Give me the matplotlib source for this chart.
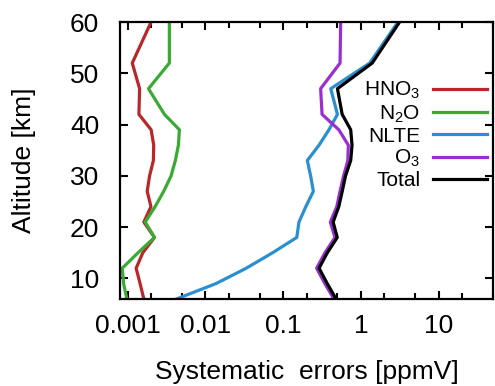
import matplotlib
matplotlib.use("Agg")
import matplotlib.pyplot as plt
from matplotlib.ticker import FixedLocator, NullFormatter

plt.rcParams['font.family'] = ['Liberation Sans', 'DejaVu Sans']
plt.rcParams['mathtext.fontset'] = 'custom'
plt.rcParams['mathtext.rm'] = 'Liberation Sans'
plt.rcParams['mathtext.it'] = 'Liberation Sans'

# altitude grid [km]
altitude = [6, 9, 12, 15, 18, 21, 24, 27, 30, 33, 36, 39, 42, 47, 52, 60]

# systematic errors [ppmV]
hno3 = [0.00162, 0.00145, 0.00129, 0.00157, 0.00222, 0.00162, 0.0020, 0.00179,
        0.00192, 0.00215, 0.00217, 0.00201, 0.00140, 0.00143, 0.00115, 0.00201]
n2o = [0.00098, 0.00089, 0.000855, 0.00136, 0.00222, 0.00169, 0.00226, 0.00292,
       0.00363, 0.00412, 0.00451, 0.00464, 0.00298, 0.00186, 0.00345, 0.00345]
nlte = [0.00425, 0.0137, 0.0336, 0.073, 0.150, 0.160, 0.196, 0.245,
        0.226, 0.205, 0.29, 0.389, 0.50, 0.41, 1.30, 3.0]
o3 = [0.45, 0.345, 0.27, 0.345, 0.465, 0.405, 0.49, 0.54,
      0.60, 0.68, 0.69, 0.52, 0.317, 0.304, 0.54, 0.55]
total = [0.48, 0.37, 0.29, 0.37, 0.497, 0.44, 0.52, 0.576,
         0.635, 0.74, 0.77, 0.74, 0.575, 0.50, 1.40, 3.15]

series = [("HNO$_3$", hno3, "#b8282a"),
          ("N$_2$O", n2o, "#3aaa35"),
          ("NLTE", nlte, "#2a8fd0"),
          ("O$_3$", o3, "#9a2fd0"),
          ("Total", total, "black")]

xticks = [0.001, 0.01, 0.1, 1, 10]
xticklabels = ["0.001", "0.01", "0.1", "1", "10"]
yticks = [10, 20, 30, 40, 50, 60]

fig = plt.figure(figsize=(4.95, 3.86), dpi=100)
ax = fig.add_axes([120 / 495, 1 - 299 / 386, 373 / 495, 277 / 386])

for name, vals, col in series:
    ax.plot(vals, altitude, color=col, lw=2.3, label=name)

ax.set_xscale("log")
ax.set_xlim(0.0008, 50)
ax.set_ylim(6, 60)

ax.xaxis.set_major_locator(FixedLocator(xticks))
ax.set_xticklabels(xticklabels)
minor = [m * d for d in [0.001, 0.01, 0.1, 1, 10] for m in (2, 5)]
ax.xaxis.set_minor_locator(FixedLocator(minor))
ax.xaxis.set_minor_formatter(NullFormatter())
ax.set_yticks(yticks)

ax.tick_params(which='both', direction='in', top=True, right=True,
               width=1.5, labelsize=19)
ax.tick_params(axis='x', pad=11)
ax.tick_params(axis='y', pad=15)
ax.tick_params(which='major', length=6)
ax.tick_params(which='minor', length=4)
for s in ax.spines.values():
    s.set_linewidth(1.6)

ax.set_xlabel("Systematic  errors [ppmV]", fontsize=19, labelpad=16)
ax.set_ylabel("Altitude [km]", fontsize=19, labelpad=24)

leg = ax.legend(loc='upper right', bbox_to_anchor=(487 / 495, 1 - 80 / 386),
                bbox_transform=fig.transFigure, frameon=False, markerfirst=False,
                fontsize=15, handlelength=2.6, handletextpad=0.6,
                labelspacing=0.1, borderpad=0, borderaxespad=0)

fig.savefig("out.png", dpi=100)
